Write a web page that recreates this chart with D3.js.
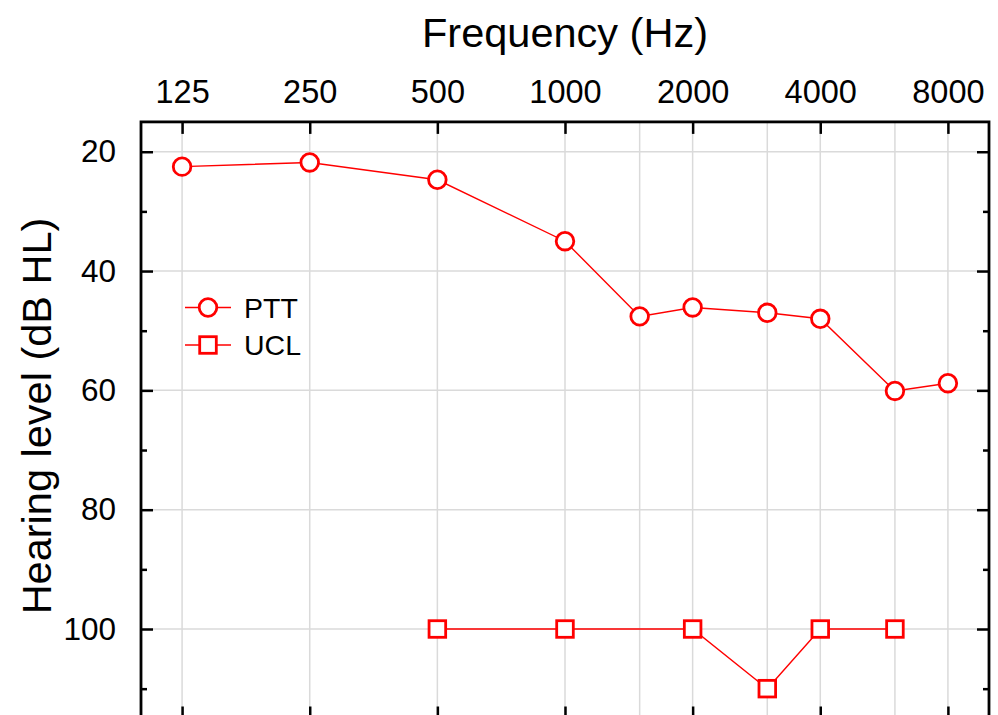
<!DOCTYPE html>
<html>
<head>
<meta charset="utf-8">
<script src="https://cdn.jsdelivr.net/npm/d3@7/dist/d3.min.js"></script>
<style>
  html, body { margin: 0; padding: 0; background: #fff; }
  svg { display: block; font-family: "Liberation Sans", Arial, sans-serif; }
</style>
</head>
<body>
<svg id="chart" width="998" height="715"></svg>
<script>
// Audiogram: pure-tone thresholds and uncomfortable loudness levels
const freqLabels = [125, 250, 500, 1000, 2000, 4000, 8000];
const gridFreqs = [125, 250, 500, 1000, 1500, 2000, 3000, 4000, 6000, 8000];
const yMajorTicks = [20, 40, 60, 80, 100];
const yMinorTicks = [30, 50, 70, 90, 110];

const pttFreqs = [125, 250, 500, 1000, 1500, 2000, 3000, 4000, 6000, 8000];
const pttValues = [22.5, 21.8, 24.7, 35.0, 47.6, 46.1, 47.0, 48.0, 60.1, 58.8];

const uclFreqs = [500, 1000, 2000, 3000, 4000, 6000];
const uclValues = [100, 100, 100, 110, 100, 100];

const RED = "#ff0000";
const svg = d3.select("#chart");

const plotLeft = 141, plotRight = 989, plotTop = 121.9, plotBottom = 718.5;

const x = d3.scaleLog().domain([100, 10000]).range([plotLeft, plotRight]);
const y = d3.scaleLinear().domain([15, 115]).range([plotTop, plotBottom]);

// clip region for plot content
svg.append("defs").append("clipPath").attr("id", "plotClip")
  .append("rect").attr("x", plotLeft).attr("y", plotTop)
  .attr("width", plotRight - plotLeft).attr("height", plotBottom - plotTop);

// grid
const grid = svg.append("g").attr("clip-path", "url(#plotClip)");
grid.selectAll("line.vg").data(gridFreqs).join("line")
  .attr("class", "vg")
  .attr("x1", d => x(d)).attr("x2", d => x(d))
  .attr("y1", plotTop).attr("y2", plotBottom)
  .attr("stroke", "#dadada").attr("stroke-width", 1.5);
grid.selectAll("line.hg").data(yMajorTicks).join("line")
  .attr("class", "hg")
  .attr("x1", plotLeft).attr("x2", plotRight)
  .attr("y1", d => y(d)).attr("y2", d => y(d))
  .attr("stroke", "#dadada").attr("stroke-width", 1.5);

// axes with inward ticks
const tickStyle = g => {
  g.select(".domain").remove();
  g.selectAll(".tick line").attr("stroke", "#000").attr("stroke-width", 2.5);
};
const labelStyle = size => g => g.selectAll(".tick text")
  .attr("font-size", size).attr("fill", "#000")
  .attr("font-family", "Liberation Sans, Arial, sans-serif");

// top axis (labels)
svg.append("g").attr("transform", `translate(0,${plotTop})`)
  .call(d3.axisTop(x).tickValues(freqLabels).tickFormat(d3.format("d"))
    .tickSizeInner(-12).tickSizeOuter(0).tickPadding(19))
  .call(tickStyle).call(labelStyle(32.5));

// bottom axis (ticks only)
svg.append("g").attr("transform", `translate(0,${plotBottom})`)
  .call(d3.axisBottom(x).tickValues(freqLabels).tickFormat("")
    .tickSizeInner(-12).tickSizeOuter(0))
  .call(tickStyle);

// left axis
svg.append("g").attr("transform", `translate(${plotLeft},0)`)
  .call(d3.axisLeft(y).tickValues(yMajorTicks).tickFormat(d3.format("d"))
    .tickSizeInner(-12).tickSizeOuter(0).tickPadding(25))
  .call(tickStyle).call(labelStyle(31.5));
svg.append("g").attr("transform", `translate(${plotLeft},0)`)
  .call(d3.axisLeft(y).tickValues(yMinorTicks).tickFormat("")
    .tickSizeInner(-6).tickSizeOuter(0))
  .call(tickStyle);

// right axis
svg.append("g").attr("transform", `translate(${plotRight},0)`)
  .call(d3.axisRight(y).tickValues(yMajorTicks).tickFormat("")
    .tickSizeInner(-12).tickSizeOuter(0))
  .call(tickStyle);
svg.append("g").attr("transform", `translate(${plotRight},0)`)
  .call(d3.axisRight(y).tickValues(yMinorTicks).tickFormat("")
    .tickSizeInner(-6).tickSizeOuter(0))
  .call(tickStyle);

// frame
svg.append("rect").attr("x", plotLeft).attr("y", plotTop)
  .attr("width", plotRight - plotLeft).attr("height", plotBottom - plotTop)
  .attr("fill", "none").attr("stroke", "#000").attr("stroke-width", 2.8);

// axis titles
svg.append("text").attr("x", (plotLeft + plotRight) / 2).attr("y", 47)
  .attr("text-anchor", "middle").attr("font-size", 41.5).attr("fill", "#000")
  .text("Frequency (Hz)");
svg.append("text")
  .attr("transform", `translate(51,416) rotate(-90)`)
  .attr("text-anchor", "middle").attr("font-size", 41.5).attr("fill", "#000")
  .text("Hearing level (dB HL)");

// series
const line = d3.line().x(d => x(d[0])).y(d => y(d[1]));
const ptt = pttFreqs.map((f, i) => [f, pttValues[i]]);
const ucl = uclFreqs.map((f, i) => [f, uclValues[i]]);

const plot = svg.append("g");
plot.append("path").datum(ptt).attr("d", line)
  .attr("fill", "none").attr("stroke", RED).attr("stroke-width", 1.4);
plot.append("path").datum(ucl).attr("d", line)
  .attr("fill", "none").attr("stroke", RED).attr("stroke-width", 1.4);

plot.selectAll("circle.ptt").data(ptt).join("circle")
  .attr("class", "ptt")
  .attr("cx", d => x(d[0])).attr("cy", d => y(d[1])).attr("r", 8.8)
  .attr("fill", "#fff").attr("stroke", RED).attr("stroke-width", 2.8);

const sq = 16.6;
plot.selectAll("rect.ucl").data(ucl).join("rect")
  .attr("class", "ucl")
  .attr("x", d => x(d[0]) - sq / 2).attr("y", d => y(d[1]) - sq / 2)
  .attr("width", sq).attr("height", sq)
  .attr("fill", "#fff").attr("stroke", RED).attr("stroke-width", 2.8);

// legend
const legend = svg.append("g");
const legendItems = [{ name: "PTT", shape: "circle", cy: 307.5 },
                     { name: "UCL", shape: "square", cy: 345 }];
legendItems.forEach(it => {
  legend.append("line").attr("x1", 185).attr("x2", 231)
    .attr("y1", it.cy).attr("y2", it.cy)
    .attr("stroke", RED).attr("stroke-width", 1.4);
  if (it.shape === "circle") {
    legend.append("circle").attr("cx", 208).attr("cy", it.cy).attr("r", 8.8)
      .attr("fill", "#fff").attr("stroke", RED).attr("stroke-width", 2.8);
  } else {
    legend.append("rect").attr("x", 208 - sq / 2).attr("y", it.cy - sq / 2)
      .attr("width", sq).attr("height", sq)
      .attr("fill", "#fff").attr("stroke", RED).attr("stroke-width", 2.8);
  }
  legend.append("text").attr("x", 244).attr("y", it.cy + 10)
    .attr("font-size", 28.5).attr("fill", "#000").text(it.name);
});
</script>
</body>
</html>
